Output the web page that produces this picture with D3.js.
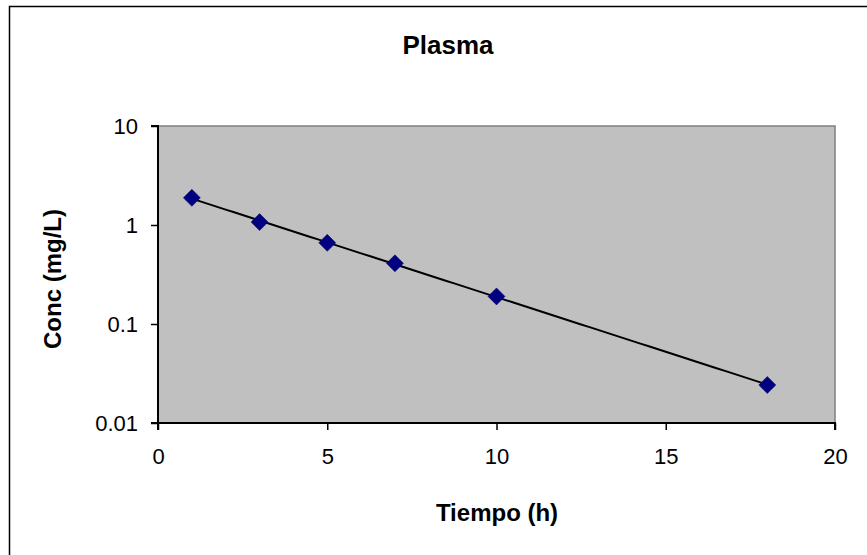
<!DOCTYPE html>
<html><head><meta charset="utf-8">
<script src="https://cdn.jsdelivr.net/npm/d3@7"></script>
<style>body{margin:0;background:#fff}svg{display:block;font-family:"Liberation Sans",Arial,sans-serif}</style>
</head><body>
<svg id="c" width="867" height="555"></svg>
<script>
const tiempo = [1, 3, 5, 7, 10, 18];
const conc = [1.88, 1.07, 0.66, 0.41, 0.19, 0.0242];
const xTicks = [0, 5, 10, 15, 20];
const yTicks = [0.01, 0.1, 1, 10];
const yTickLabels = ["0.01", "0.1", "1", "10"];
const title = "Plasma", xTitle = "Tiempo (h)", yTitle = "Conc (mg/L)";

const svg = d3.select("#c");
const L = 158, R = 835, T = 126, B = 423;
// outer chart border
svg.append("rect").attr("x", 9.5).attr("y", 6.5).attr("width", 900).attr("height", 600)
  .attr("fill", "#fff").attr("stroke", "#000").attr("stroke-width", 1.5);

const x = d3.scaleLinear().domain([0, 20]).range([L, R]);
const y = d3.scaleLog().domain([0.01, 10]).range([B, T]);

svg.append("rect").attr("x", L).attr("y", T).attr("width", R - L).attr("height", B - T)
  .attr("fill", "#c0c0c0").attr("stroke", "#808080").attr("stroke-width", 1.5);

const xa = svg.append("g").attr("transform", `translate(0,${B})`)
  .call(d3.axisBottom(x).tickValues(xTicks).tickSize(7).tickPadding(18));
const ya = svg.append("g").attr("transform", `translate(${L},0)`)
  .call(d3.axisLeft(y).tickValues(yTicks).tickFormat((d, i) => yTickLabels[i]).tickSize(7).tickPadding(13));
[xa, ya].forEach(a => {
  a.select(".domain").attr("stroke", "#000").attr("stroke-width", 2);
  a.selectAll(".tick line").attr("stroke", "#000").attr("stroke-width", 1.5);
  a.selectAll("text").attr("font-size", 22).attr("fill", "#000")
    .attr("font-family", "Liberation Sans, Arial, sans-serif");
});
ya.select(".domain").attr("d", `M-7,${T}H0V${B}H-7`);
xa.select(".domain").attr("d", `M${L},7V0H${R}V7`);

// exponential trendline (least squares on ln y)
const n = tiempo.length;
const lx = tiempo, ly = conc.map(Math.log);
const mx = d3.mean(lx), my = d3.mean(ly);
const b = d3.sum(lx.map((v, i) => (v - mx) * (ly[i] - my))) / d3.sum(lx.map(v => (v - mx) ** 2));
const a = my - b * mx;
const xs = d3.range(tiempo[0], tiempo[n - 1] + 0.001, 0.25);
svg.append("path").datum(xs)
  .attr("d", d3.line().x(d => x(d)).y(d => y(Math.exp(a + b * d))))
  .attr("fill", "none").attr("stroke", "#000").attr("stroke-width", 2);

svg.append("g").selectAll("path").data(tiempo).join("path")
  .attr("transform", (d, i) => `translate(${x(d)},${y(conc[i])})`)
  .attr("d", "M0,-8.5L8.5,0L0,8.5L-8.5,0Z")
  .attr("fill", "#000080").attr("stroke", "#000060").attr("stroke-width", 0.5);

svg.append("text").attr("x", 448).attr("y", 54).attr("text-anchor", "middle")
  .attr("font-size", 26).attr("font-weight", "bold").text(title);
svg.append("text").attr("x", 497).attr("y", 521).attr("text-anchor", "middle")
  .attr("font-size", 24).attr("font-weight", "bold").text(xTitle);
svg.append("text").attr("transform", `translate(61,279) rotate(-90)`)
  .attr("text-anchor", "middle").attr("font-size", 24).attr("font-weight", "bold").text(yTitle);
</script>
</body></html>
